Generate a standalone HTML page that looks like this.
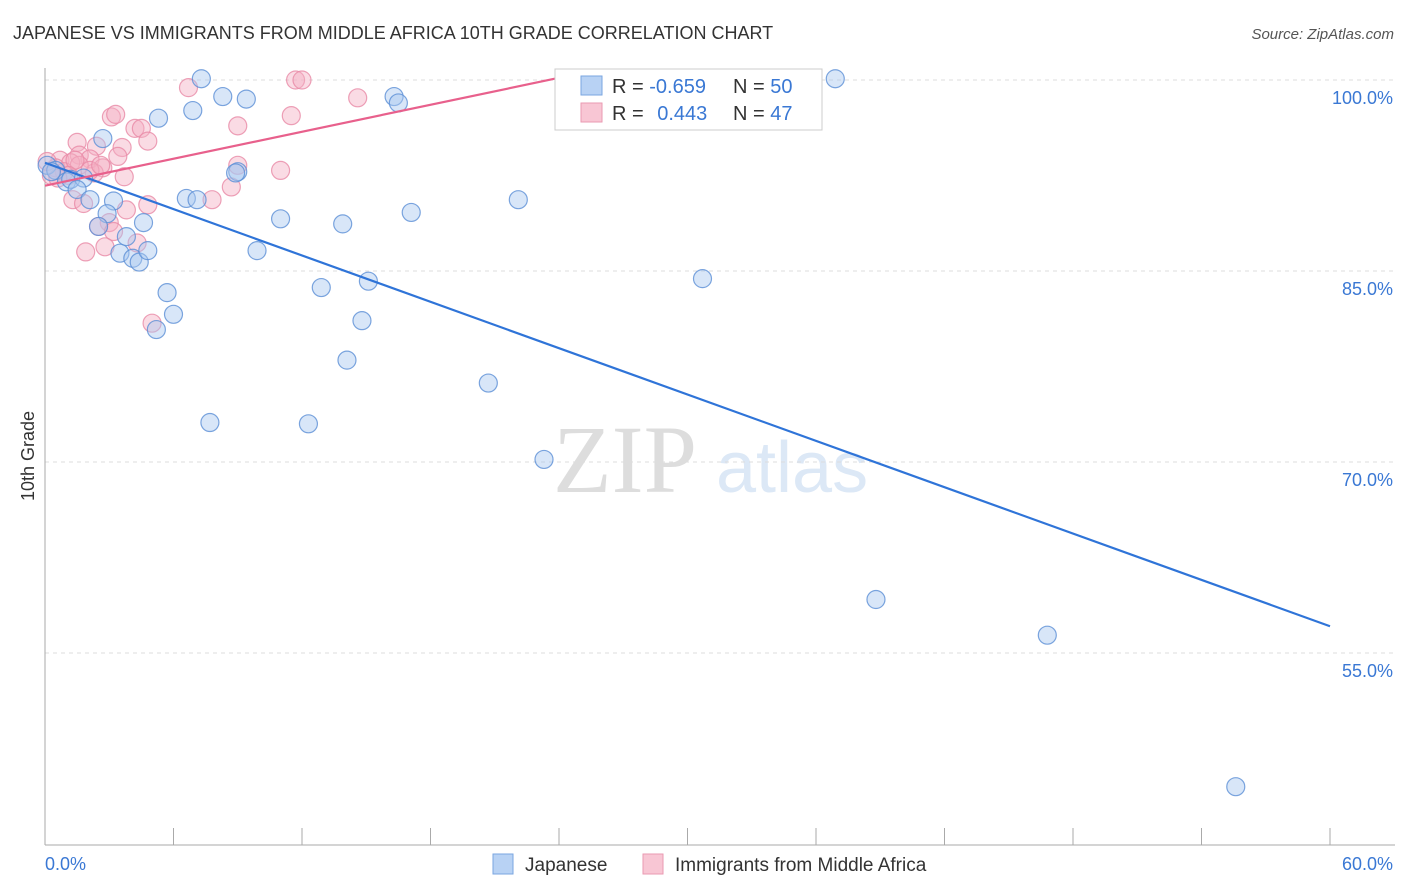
<!DOCTYPE html>
<html><head><meta charset="utf-8">
<style>
body{margin:0;background:#fff;font-family:"Liberation Sans",sans-serif;}
svg{display:block}
</style></head>
<body>
<svg id="chart" width="1406" height="892" xmlns="http://www.w3.org/2000/svg">
<text x="13" y="39" font-size="18" fill="#333">JAPANESE VS IMMIGRANTS FROM MIDDLE AFRICA 10TH GRADE CORRELATION CHART</text>
<text x="1394" y="39" font-size="15" fill="#555" font-style="italic" text-anchor="end">Source: ZipAtlas.com</text>
<g>
<text x="553" y="492" font-family="Liberation Serif" font-size="96" fill="#ddd">ZIP</text>
<text x="716" y="492" font-size="72" fill="#dce8f6">atlas</text>
</g>
<g id="grid"></g>
<g id="axes"></g>
<g id="pts"></g>
<g id="trends"></g>
<text transform="translate(34,456) rotate(-90)" font-size="18" fill="#333" text-anchor="middle">10th Grade</text>
<g>
<rect x="555" y="69" width="267" height="61" fill="#fff" stroke="#ccc"/>
<rect x="581" y="76" width="21" height="19" fill="#b8d2f4" stroke="#7aa6e0"/>
<rect x="581" y="103" width="21" height="19" fill="#f8c6d4" stroke="#ea9ab2"/>
<text x="612" y="93" font-size="20" fill="#333">R = <tspan fill="#3a78d4">-0.659</tspan></text>
<text x="733" y="93" font-size="20" fill="#333">N = <tspan fill="#3a78d4">50</tspan></text>
<text x="612" y="120" font-size="20" fill="#333">R = <tspan fill="#3a78d4" dx="8">0.443</tspan></text>
<text x="733" y="120" font-size="20" fill="#333">N = <tspan fill="#3a78d4">47</tspan></text>
</g>
<g>
<rect x="493" y="854" width="20" height="20" fill="#b8d2f4" stroke="#7aa6e0"/>
<text x="525" y="871" font-size="19" fill="#333">Japanese</text>
<rect x="643" y="854" width="20" height="20" fill="#f8c6d4" stroke="#ea9ab2"/>
<text x="675" y="871" font-size="19" fill="#333">Immigrants from Middle Africa</text>
</g>
</svg>
<script>
const yTicks=[100,85,70,55];
const yTickLabels=["100.0%","85.0%","70.0%","55.0%"];
const xTickLabels=["0.0%","60.0%"];
const japanese=[[7.3,100.1],[8.3,98.7],[9.4,98.5],[6.9,97.6],[5.3,97.0],[2.7,95.4],[16.3,98.7],[16.5,98.2],[36.9,100.1],[0.1,93.3],[0.5,92.9],[1.0,92.0],[1.2,92.2],[1.8,92.3],[1.5,91.4],[2.1,90.6],[3.2,90.5],[2.9,89.5],[2.5,88.5],[3.8,87.7],[4.6,88.8],[3.5,86.4],[4.1,86.0],[4.4,85.7],[4.8,86.6],[6.6,90.7],[7.1,90.6],[9.0,92.8],[11.0,89.1],[9.9,86.6],[13.9,88.7],[17.1,89.6],[22.1,90.6],[12.9,83.7],[15.1,84.2],[5.7,83.3],[6.0,81.6],[5.2,80.4],[14.8,81.1],[14.1,78.0],[20.7,76.2],[7.7,73.1],[12.3,73.0],[23.3,70.2],[30.7,84.4],[38.8,59.2],[46.8,56.4],[55.6,44.5],[8.9,92.7],[0.3,92.8]];
const middleAfrica=[[6.7,99.4],[11.7,100],[12.0,100],[14.6,98.6],[11.5,97.2],[9.0,96.4],[3.1,97.1],[3.3,97.3],[4.2,96.2],[4.5,96.2],[4.8,95.2],[1.5,95.1],[3.6,94.7],[3.4,94.0],[2.4,94.8],[1.6,94.1],[2.1,93.8],[2.7,93.1],[2.3,92.7],[3.7,92.4],[9.0,93.3],[11.0,92.9],[8.7,91.6],[7.8,90.6],[4.8,90.2],[3.8,89.8],[1.3,90.6],[1.8,90.3],[3.0,88.8],[2.5,88.5],[3.2,88.1],[4.3,87.2],[2.8,86.9],[1.9,86.5],[5.0,80.9],[0.7,93.7],[1.2,93.5],[0.5,93.1],[0.9,92.8],[1.6,93.3],[0.3,92.5],[2.1,92.9],[1.4,93.7],[1.1,92.5],[2.6,93.3],[0.1,93.6],[0.6,92.3]];
const blueTrend=[[0,93.5],[60,57.1]];
const pinkTrend=[[0,91.7],[23.8,100.1]];

const X0=45,X1=1330,Y100=80,PER=191/15;
const sx=v=>X0+(v/60)*(X1-X0);
const sy=v=>Y100+(100-v)*PER;
const NS="http://www.w3.org/2000/svg";
function mk(t,a,p){const e=document.createElementNS(NS,t);for(const k in a)e.setAttribute(k,a[k]);p.appendChild(e);return e;}
const grid=document.getElementById('grid'),axes=document.getElementById('axes'),pts=document.getElementById('pts'),tr=document.getElementById('trends');
yTicks.forEach((t,i)=>{
  const l=mk('line',{x1:X0,x2:1395,y1:sy(t),y2:sy(t),stroke:'#ddd','stroke-dasharray':'4,4'},grid);
  
  
  const tx=mk('text',{x:1393,y:sy(t)+24,'font-size':18,fill:'#3a78d4','text-anchor':'end'},grid);
  tx.textContent=yTickLabels[i];
  
  
});
const ya=mk('line',{x1:X0,x2:X0,y1:68,y2:845,stroke:'#aaa'},axes);


const xa=mk('line',{x1:X0,x2:1395,y1:845,y2:845,stroke:'#aaa'},axes);


for(let v=0;v<=60;v+=6){
  const t=mk('line',{x1:sx(v),x2:sx(v),y1:828,y2:845,stroke:'#aaa'},axes);
  
  
}
[[0,'start',45],[60,'end',1393]].forEach((d,i)=>{
  const t=mk('text',{x:d[2],y:870,'font-size':18,fill:'#3a78d4','text-anchor':d[1]},axes);
  t.textContent=xTickLabels[i];
  
  
});
function dots(arr,fill,stroke,name){
  arr.forEach(p=>{
    const c=mk('circle',{cx:sx(p[0]),cy:sy(p[1]),r:9,fill:fill,'fill-opacity':0.45,stroke:stroke,'stroke-opacity':0.8,'stroke-width':1.2},pts);
    
    
  });
}
dots(middleAfrica,'#f4b0c4','#e88aa6','middle-africa-point');
dots(japanese,'#a8c8f0','#5b8fd6','japanese-point');
const b=mk('line',{x1:sx(blueTrend[0][0]),y1:sy(blueTrend[0][1]),x2:sx(blueTrend[1][0]),y2:sy(blueTrend[1][1]),stroke:'#2f74d8','stroke-width':2.2},tr);


const p=mk('line',{x1:sx(pinkTrend[0][0]),y1:sy(pinkTrend[0][1]),x2:sx(pinkTrend[1][0]),y2:sy(pinkTrend[1][1]),stroke:'#e8608c','stroke-width':2.2},tr);


</script>
</body></html>
